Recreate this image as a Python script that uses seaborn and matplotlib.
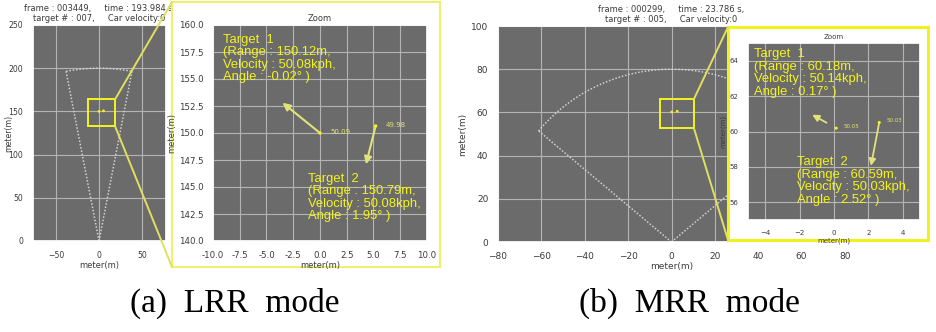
import numpy as np
import pandas as pd
import matplotlib
matplotlib.use("Agg")
import matplotlib.pyplot as plt
import seaborn as sns
from matplotlib.patches import Rectangle, ConnectionPatch
from matplotlib.ticker import FormatStrFormatter, MultipleLocator

# ---------------- data ----------------
lrr_header = "frame : 003449,     time : 193.984 s,\ntarget # : 007,     Car velocity:0"
mrr_header = "frame : 000299,     time : 23.786 s,\ntarget # : 005,     Car velocity:0"

lrr_max_range = 200.0
lrr_half_fov_deg = 11.0
mrr_max_range = 80.0
mrr_half_fov_deg = 50.0

lrr_target_x = [0.0, 5.2]
lrr_target_y = [150.0, 150.65]
lrr_target_speed = ["50.09", "49.98"]
lrr_arrow_x = [-3.5, 4.3]
lrr_arrow_y = [152.8, 147.1]
lrr_info = ["Target  1\n(Range : 150.12m,\nVelocity : 50.08kph,\nAngle : -0.02° )",
            "Target  2\n(Range : 150.79m,\nVelocity : 50.08kph,\nAngle : 1.95° )"]

mrr_target_x = [0.13, 2.63]
mrr_target_y = [60.19, 60.51]
mrr_target_speed = ["50.05", "50.03"]
mrr_arrow_x = [-1.27, 2.15]
mrr_arrow_y = [60.95, 58.06]
mrr_info = ["Target  1\n(Range : 60.18m,\nVelocity : 50.14kph,\nAngle : 0.17° )",
            "Target  2\n(Range : 60.59m,\nVelocity : 50.03kph,\nAngle : 2.52° )"]

lrr_zoom_box = [-12.4, 18.6, 132.8, 164.0]   # x0, x1, y0, y1 of marked region
mrr_zoom_box = [-5.4, 10.3, 52.8, 66.1]

captions = ["(a)  LRR  mode", "(b)  MRR  mode"]

# ---------------- style ----------------
W, H = 937, 332
sns.set_theme(style="darkgrid", rc={
    "axes.facecolor": "#6b6b6b",
    "grid.color": "#b4b4b4",
    "grid.linewidth": 0.8,
    "xtick.color": "#3a3a3a",
    "ytick.color": "#3a3a3a",
    "axes.labelcolor": "#3a3a3a",
    "text.color": "#3a3a3a",
})
plt.rcParams["font.family"] = ["DejaVu Sans"]

ANN_FONT = ["Liberation Sans", "DejaVu Sans"]
ANN_SIZE = 9.4
YEL = "#f4f41c"
ARW = "#e2e27a"
SECT = "#d2d2d2"

fig = plt.figure(figsize=(W / 100, H / 100), dpi=100)
fig.patch.set_facecolor("white")

def rect(l, t, w, h):
    return [l / W, 1 - (t + h) / H, w / W, h / H]

def sector(ax, R, half):
    th = np.radians(np.linspace(-half, half, 80))
    arc = pd.DataFrame({"x": R * np.sin(th), "y": R * np.cos(th)})
    sns.lineplot(data=arc, x="x", y="y", sort=False, estimator=None, ax=ax,
                 color=SECT, lw=1.1, linestyle=(0, (1, 1.2)))
    for s in (-1, 1):
        edge = pd.DataFrame({"x": [0, s * R * np.sin(np.radians(half))],
                             "y": [0, R * np.cos(np.radians(half))]})
        sns.lineplot(data=edge, x="x", y="y", sort=False, estimator=None, ax=ax,
                     color=SECT, lw=1.1, linestyle=(0, (1, 1.2)))

def targets(ax, xs, ys, size):
    sns.scatterplot(x=xs, y=ys, ax=ax, color=YEL, s=size, edgecolor="none", zorder=5)

# ---------------- panel (a) main ----------------
axA = fig.add_axes(rect(33, 25, 133, 216))
sector(axA, lrr_max_range, lrr_half_fov_deg)
targets(axA, lrr_target_x, lrr_target_y, 4)
axA.set_xlim(-76.5, 77.6)
axA.set_ylim(0, 250)
axA.set_xticks([-50, 0, 50])
axA.set_yticks([0, 50, 100, 150, 200, 250])
axA.tick_params(labelsize=5.6, pad=1)
axA.set_xlabel("meter(m)", fontsize=6.0, labelpad=1)
axA.set_ylabel("meter(m)", fontsize=5.6)
axA.yaxis.set_label_coords((13 - 33) / 133, 0.5)
axA.set_title(lrr_header, fontsize=6, pad=3, linespacing=1.1)
axA.add_patch(Rectangle((lrr_zoom_box[0], lrr_zoom_box[2]),
                        lrr_zoom_box[1] - lrr_zoom_box[0], lrr_zoom_box[3] - lrr_zoom_box[2],
                        fill=False, ec=YEL, lw=1.4, zorder=6))

# frame of inset (a)
fig.add_artist(Rectangle((172 / W, 1 - 267 / H), 268 / W, 265 / H, transform=fig.transFigure,
                         fc="white", ec="#f0f070", lw=1.5, zorder=2))
for yb, yc in ((lrr_zoom_box[3], 2), (lrr_zoom_box[2], 267)):
    fig.add_artist(ConnectionPatch(xyA=(lrr_zoom_box[1], yb), coordsA=axA.transData,
                                   xyB=(172 / W, 1 - yc / H), coordsB=fig.transFigure,
                                   color="#e0e060", lw=1.4, zorder=3))

# ---------------- panel (a) inset ----------------
axAi = fig.add_axes(rect(213, 25, 214, 216), zorder=5)
targets(axAi, lrr_target_x, lrr_target_y, 6)
axAi.set_xlim(-10, 10)
axAi.set_ylim(140, 160)
axAi.xaxis.set_major_locator(MultipleLocator(2.5))
axAi.yaxis.set_major_locator(MultipleLocator(2.5))
axAi.xaxis.set_major_formatter(FormatStrFormatter("%.1f"))
axAi.yaxis.set_major_formatter(FormatStrFormatter("%.1f"))
axAi.tick_params(labelsize=6.2, pad=1)
axAi.set_xlabel("meter(m)", fontsize=6, labelpad=1)
axAi.set_ylabel("meter(m)", fontsize=6, labelpad=2)
axAi.set_title("Zoom", fontsize=6, pad=3)
for i in range(2):
    axAi.annotate("", xy=(lrr_arrow_x[i], lrr_arrow_y[i]), xytext=(lrr_target_x[i], lrr_target_y[i]),
                  arrowprops=dict(arrowstyle="-|>", color=ARW, lw=1.5, mutation_scale=11,
                                  shrinkA=0, shrinkB=0))
    axAi.text(lrr_target_x[i] + 0.95, lrr_target_y[i] + 0.1, lrr_target_speed[i],
              fontsize=5, color=ARW, va="center")
axAi.text(-9.1, 159.2, lrr_info[0], fontsize=ANN_SIZE, color=YEL, family=ANN_FONT,
          va="top", ha="left", linespacing=1.05)
axAi.text(-1.1, 146.3, lrr_info[1], fontsize=ANN_SIZE, color=YEL, family=ANN_FONT,
          va="top", ha="left", linespacing=1.05)

# ---------------- panel (b) main ----------------
axB = fig.add_axes(rect(498, 26, 347, 216))
sector(axB, mrr_max_range, mrr_half_fov_deg)
targets(axB, mrr_target_x, mrr_target_y, 4)
axB.set_xlim(-80, 80)
axB.set_ylim(0, 100)
axB.set_xticks(np.arange(-80, 81, 20))
axB.set_yticks(np.arange(0, 101, 20))
axB.tick_params(labelsize=6.5, pad=1)
axB.set_xlabel("meter(m)", fontsize=6.5, labelpad=1)
axB.set_ylabel("meter(m)", fontsize=6.5, labelpad=3)
axB.set_title(mrr_header, fontsize=6, pad=3, linespacing=1.1)
axB.add_patch(Rectangle((mrr_zoom_box[0], mrr_zoom_box[2]),
                        mrr_zoom_box[1] - mrr_zoom_box[0], mrr_zoom_box[3] - mrr_zoom_box[2],
                        fill=False, ec=YEL, lw=1.4, zorder=6))

fig.add_artist(Rectangle((728 / W, 1 - 240 / H), 200 / W, 213 / H, transform=fig.transFigure,
                         fc="white", ec="#f2f21a", lw=2.2, zorder=2))
for yb, yc in ((mrr_zoom_box[3], 27), (mrr_zoom_box[2], 240)):
    fig.add_artist(ConnectionPatch(xyA=(mrr_zoom_box[1], yb), coordsA=axB.transData,
                                   xyB=(728 / W, 1 - yc / H), coordsB=fig.transFigure,
                                   color="#e0e060", lw=1.4, zorder=3))

# ---------------- panel (b) inset ----------------
axBi = fig.add_axes(rect(748, 43, 172, 177), zorder=5)
targets(axBi, mrr_target_x, mrr_target_y, 5)
axBi.set_xlim(-5, 5)
axBi.set_ylim(55, 65)
axBi.set_xticks([-4, -2, 0, 2, 4])
axBi.set_yticks([56, 58, 60, 62, 64])
axBi.tick_params(labelsize=5, pad=1)
axBi.set_xlabel("meter(m)", fontsize=5, labelpad=1)
axBi.set_ylabel("meter(m)", fontsize=5, labelpad=2)
axBi.set_title("Zoom", fontsize=5, pad=3)
shrinks = [8, 0]
for i in range(2):
    axBi.annotate("", xy=(mrr_arrow_x[i], mrr_arrow_y[i]), xytext=(mrr_target_x[i], mrr_target_y[i]),
                  arrowprops=dict(arrowstyle="-|>", color=ARW, lw=1.3, mutation_scale=10,
                                  shrinkA=shrinks[i], shrinkB=0))
    axBi.text(mrr_target_x[i] + 0.45, mrr_target_y[i] + 0.12, mrr_target_speed[i],
              fontsize=4, color=ARW, va="center")
axBi.text(-4.63, 64.7, mrr_info[0], fontsize=ANN_SIZE, color=YEL, family=ANN_FONT,
          va="top", ha="left", linespacing=1.05)
axBi.text(-2.15, 58.6, mrr_info[1], fontsize=ANN_SIZE, color=YEL, family=ANN_FONT,
          va="top", ha="left", linespacing=1.05)

# ---------------- captions ----------------
for cx, cap in zip([235, 689], captions):
    fig.text(cx / W, 1 - 303 / H, cap, ha="center", va="center", fontsize=24,
             family=["Liberation Serif", "DejaVu Serif"], color="black")

fig.savefig("out.png", dpi=100)
